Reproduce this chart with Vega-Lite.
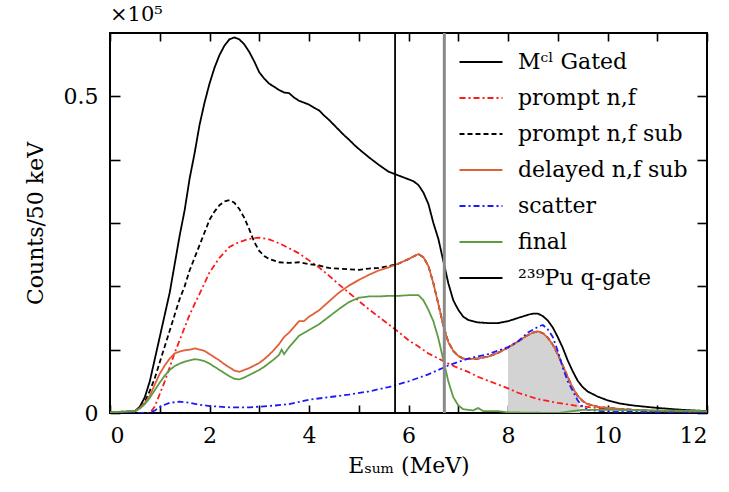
{
  "$schema": "https://vega.github.io/schema/vega-lite/v6.json",
  "width": 597,
  "height": 380,
  "autosize": {"type": "none"},
  "padding": {"left": 110, "top": 33, "right": 22, "bottom": 79},
  "background": "white",
  "title": {"text": "×10⁵", "anchor": "start", "frame": "group", "font": "DejaVu Serif", "fontSize": 21, "fontWeight": "normal", "offset": 7, "color": "black"},
  "config": {
    "view": {"stroke": "black", "strokeWidth": 2},
    "axis": {"grid": false, "domain": false, "tickColor": "black", "tickWidth": 1.6, "labelFont": "DejaVu Serif", "labelFontSize": 22, "labelColor": "black", "titleFont": "DejaVu Serif", "titleFontSize": 22, "titleFontWeight": "normal", "titleColor": "black"}
  },
  "datasets": {
    "curves": [
      {"s":"M","E":0,"v":0.001},{"s":"M","E":0.3,"v":0.001},{"s":"M","E":0.5,"v":0.003},{"s":"M","E":0.6,"v":0.01},{"s":"M","E":0.7,"v":0.025},{"s":"M","E":0.8,"v":0.05},{"s":"M","E":0.9,"v":0.085},{"s":"M","E":1.0,"v":0.12},{"s":"M","E":1.1,"v":0.155},{"s":"M","E":1.2,"v":0.19},{"s":"M","E":1.3,"v":0.235},{"s":"M","E":1.4,"v":0.28},{"s":"M","E":1.5,"v":0.32},{"s":"M","E":1.6,"v":0.37},{"s":"M","E":1.7,"v":0.41},{"s":"M","E":1.8,"v":0.455},{"s":"M","E":1.9,"v":0.49},{"s":"M","E":2.0,"v":0.52},{"s":"M","E":2.1,"v":0.545},{"s":"M","E":2.2,"v":0.565},{"s":"M","E":2.3,"v":0.58},{"s":"M","E":2.4,"v":0.59},{"s":"M","E":2.5,"v":0.593},{"s":"M","E":2.6,"v":0.59},{"s":"M","E":2.7,"v":0.582},{"s":"M","E":2.8,"v":0.57},{"s":"M","E":2.9,"v":0.555},{"s":"M","E":3.0,"v":0.538},{"s":"M","E":3.1,"v":0.528},{"s":"M","E":3.2,"v":0.52},{"s":"M","E":3.3,"v":0.515},{"s":"M","E":3.4,"v":0.51},{"s":"M","E":3.5,"v":0.506},{"s":"M","E":3.6,"v":0.505},{"s":"M","E":3.7,"v":0.498},{"s":"M","E":3.8,"v":0.493},{"s":"M","E":3.9,"v":0.49},{"s":"M","E":4.0,"v":0.487},{"s":"M","E":4.1,"v":0.482},{"s":"M","E":4.2,"v":0.478},{"s":"M","E":4.3,"v":0.47},{"s":"M","E":4.4,"v":0.463},{"s":"M","E":4.5,"v":0.455},{"s":"M","E":4.6,"v":0.447},{"s":"M","E":4.7,"v":0.439},{"s":"M","E":4.8,"v":0.432},{"s":"M","E":4.9,"v":0.424},{"s":"M","E":5.0,"v":0.417},{"s":"M","E":5.2,"v":0.404},{"s":"M","E":5.4,"v":0.392},{"s":"M","E":5.6,"v":0.381},{"s":"M","E":5.8,"v":0.375},{"s":"M","E":6.0,"v":0.369},{"s":"M","E":6.1,"v":0.366},{"s":"M","E":6.2,"v":0.36},{"s":"M","E":6.3,"v":0.348},{"s":"M","E":6.4,"v":0.33},{"s":"M","E":6.5,"v":0.3},{"s":"M","E":6.6,"v":0.275},{"s":"M","E":6.7,"v":0.24},{"s":"M","E":6.8,"v":0.205},{"s":"M","E":6.9,"v":0.178},{"s":"M","E":7.0,"v":0.163},{"s":"M","E":7.1,"v":0.152},{"s":"M","E":7.2,"v":0.147},{"s":"M","E":7.4,"v":0.143},{"s":"M","E":7.6,"v":0.142},{"s":"M","E":7.8,"v":0.142},{"s":"M","E":8.0,"v":0.145},{"s":"M","E":8.2,"v":0.15},{"s":"M","E":8.4,"v":0.155},{"s":"M","E":8.5,"v":0.157},{"s":"M","E":8.6,"v":0.157},{"s":"M","E":8.7,"v":0.153},{"s":"M","E":8.8,"v":0.146},{"s":"M","E":8.9,"v":0.135},{"s":"M","E":9.0,"v":0.12},{"s":"M","E":9.1,"v":0.103},{"s":"M","E":9.2,"v":0.083},{"s":"M","E":9.3,"v":0.066},{"s":"M","E":9.4,"v":0.051},{"s":"M","E":9.5,"v":0.041},{"s":"M","E":9.6,"v":0.034},{"s":"M","E":9.7,"v":0.03},{"s":"M","E":9.8,"v":0.026},{"s":"M","E":10.0,"v":0.02},{"s":"M","E":10.25,"v":0.015},{"s":"M","E":10.5,"v":0.012},{"s":"M","E":11,"v":0.008},{"s":"M","E":11.5,"v":0.005},{"s":"M","E":12,"v":0.003},

      {"s":"P","E":0,"v":0},{"s":"P","E":0.8,"v":0},{"s":"P","E":0.9,"v":0.01},{"s":"P","E":1.0,"v":0.03},{"s":"P","E":1.1,"v":0.05},{"s":"P","E":1.2,"v":0.072},{"s":"P","E":1.3,"v":0.095},{"s":"P","E":1.4,"v":0.115},{"s":"P","E":1.5,"v":0.135},{"s":"P","E":1.6,"v":0.155},{"s":"P","E":1.7,"v":0.172},{"s":"P","E":1.8,"v":0.188},{"s":"P","E":1.9,"v":0.205},{"s":"P","E":2.0,"v":0.222},{"s":"P","E":2.2,"v":0.245},{"s":"P","E":2.4,"v":0.262},{"s":"P","E":2.6,"v":0.27},{"s":"P","E":2.8,"v":0.275},{"s":"P","E":3.0,"v":0.277},{"s":"P","E":3.2,"v":0.274},{"s":"P","E":3.4,"v":0.268},{"s":"P","E":3.6,"v":0.26},{"s":"P","E":3.8,"v":0.252},{"s":"P","E":4.0,"v":0.241},{"s":"P","E":4.2,"v":0.23},{"s":"P","E":4.4,"v":0.217},{"s":"P","E":4.6,"v":0.203},{"s":"P","E":4.8,"v":0.19},{"s":"P","E":5.0,"v":0.177},{"s":"P","E":5.2,"v":0.164},{"s":"P","E":5.4,"v":0.152},{"s":"P","E":5.6,"v":0.14},{"s":"P","E":5.8,"v":0.128},{"s":"P","E":6.0,"v":0.115},{"s":"P","E":6.2,"v":0.105},{"s":"P","E":6.4,"v":0.094},{"s":"P","E":6.6,"v":0.086},{"s":"P","E":6.8,"v":0.078},{"s":"P","E":7.0,"v":0.071},{"s":"P","E":7.2,"v":0.065},{"s":"P","E":7.4,"v":0.057},{"s":"P","E":7.6,"v":0.051},{"s":"P","E":7.8,"v":0.045},{"s":"P","E":8.0,"v":0.039},{"s":"P","E":8.2,"v":0.032},{"s":"P","E":8.4,"v":0.027},{"s":"P","E":8.6,"v":0.022},{"s":"P","E":8.8,"v":0.019},{"s":"P","E":9.0,"v":0.016},{"s":"P","E":9.4,"v":0.011},{"s":"P","E":9.8,"v":0.008},{"s":"P","E":10.4,"v":0.005},{"s":"P","E":11,"v":0.003},{"s":"P","E":12,"v":0.002},

      {"s":"S","E":0,"v":0.001},{"s":"S","E":0.5,"v":0.003},{"s":"S","E":0.6,"v":0.008},{"s":"S","E":0.7,"v":0.018},{"s":"S","E":0.8,"v":0.035},{"s":"S","E":0.9,"v":0.055},{"s":"S","E":1.0,"v":0.08},{"s":"S","E":1.1,"v":0.105},{"s":"S","E":1.2,"v":0.13},{"s":"S","E":1.3,"v":0.155},{"s":"S","E":1.4,"v":0.18},{"s":"S","E":1.5,"v":0.2},{"s":"S","E":1.6,"v":0.225},{"s":"S","E":1.7,"v":0.245},{"s":"S","E":1.8,"v":0.265},{"s":"S","E":1.9,"v":0.285},{"s":"S","E":2.0,"v":0.305},{"s":"S","E":2.1,"v":0.318},{"s":"S","E":2.2,"v":0.328},{"s":"S","E":2.3,"v":0.334},{"s":"S","E":2.4,"v":0.336},{"s":"S","E":2.5,"v":0.332},{"s":"S","E":2.6,"v":0.322},{"s":"S","E":2.7,"v":0.308},{"s":"S","E":2.8,"v":0.29},{"s":"S","E":2.9,"v":0.27},{"s":"S","E":3.0,"v":0.256},{"s":"S","E":3.1,"v":0.248},{"s":"S","E":3.2,"v":0.243},{"s":"S","E":3.4,"v":0.238},{"s":"S","E":3.6,"v":0.237},{"s":"S","E":3.8,"v":0.238},{"s":"S","E":4.0,"v":0.235},{"s":"S","E":4.2,"v":0.233},{"s":"S","E":4.4,"v":0.229},{"s":"S","E":4.6,"v":0.228},{"s":"S","E":4.8,"v":0.227},{"s":"S","E":5.0,"v":0.226},{"s":"S","E":5.2,"v":0.228},{"s":"S","E":5.4,"v":0.229},{"s":"S","E":5.6,"v":0.232},{"s":"S","E":5.8,"v":0.236},{"s":"S","E":6.0,"v":0.243},{"s":"S","E":6.1,"v":0.247},{"s":"S","E":6.2,"v":0.251},{"s":"S","E":6.3,"v":0.246},{"s":"S","E":6.4,"v":0.232},{"s":"S","E":6.5,"v":0.205},{"s":"S","E":6.6,"v":0.172},{"s":"S","E":6.7,"v":0.138},{"s":"S","E":6.8,"v":0.112},{"s":"S","E":6.9,"v":0.098},{"s":"S","E":7.0,"v":0.09},{"s":"S","E":7.1,"v":0.086},{"s":"S","E":7.2,"v":0.085},{"s":"S","E":7.4,"v":0.086},{"s":"S","E":7.6,"v":0.089},{"s":"S","E":7.8,"v":0.095},{"s":"S","E":8.0,"v":0.103},{"s":"S","E":8.2,"v":0.113},{"s":"S","E":8.4,"v":0.123},{"s":"S","E":8.5,"v":0.127},{"s":"S","E":8.6,"v":0.129},{"s":"S","E":8.7,"v":0.126},{"s":"S","E":8.8,"v":0.119},{"s":"S","E":8.9,"v":0.108},{"s":"S","E":9.0,"v":0.093},{"s":"S","E":9.1,"v":0.075},{"s":"S","E":9.2,"v":0.057},{"s":"S","E":9.3,"v":0.04},{"s":"S","E":9.4,"v":0.027},{"s":"S","E":9.5,"v":0.019},{"s":"S","E":9.6,"v":0.014},{"s":"S","E":9.8,"v":0.01},{"s":"S","E":10,"v":0.008},{"s":"S","E":10.5,"v":0.005},{"s":"S","E":11,"v":0.003},{"s":"S","E":12,"v":0.002},

      {"s":"D","E":0,"v":0.001},{"s":"D","E":0.5,"v":0.003},{"s":"D","E":0.6,"v":0.008},{"s":"D","E":0.7,"v":0.016},{"s":"D","E":0.8,"v":0.027},{"s":"D","E":0.9,"v":0.045},{"s":"D","E":1.0,"v":0.062},{"s":"D","E":1.1,"v":0.075},{"s":"D","E":1.2,"v":0.086},{"s":"D","E":1.3,"v":0.094},{"s":"D","E":1.4,"v":0.097},{"s":"D","E":1.5,"v":0.099},{"s":"D","E":1.6,"v":0.1},{"s":"D","E":1.7,"v":0.102},{"s":"D","E":1.8,"v":0.1},{"s":"D","E":1.9,"v":0.098},{"s":"D","E":2.0,"v":0.093},{"s":"D","E":2.1,"v":0.088},{"s":"D","E":2.2,"v":0.083},{"s":"D","E":2.3,"v":0.077},{"s":"D","E":2.4,"v":0.072},{"s":"D","E":2.5,"v":0.067},{"s":"D","E":2.6,"v":0.065},{"s":"D","E":2.7,"v":0.068},{"s":"D","E":2.8,"v":0.071},{"s":"D","E":2.9,"v":0.075},{"s":"D","E":3.0,"v":0.079},{"s":"D","E":3.1,"v":0.085},{"s":"D","E":3.2,"v":0.092},{"s":"D","E":3.3,"v":0.1},{"s":"D","E":3.4,"v":0.109},{"s":"D","E":3.5,"v":0.12},{"s":"D","E":3.6,"v":0.127},{"s":"D","E":3.7,"v":0.136},{"s":"D","E":3.8,"v":0.145},{"s":"D","E":3.9,"v":0.145},{"s":"D","E":4.0,"v":0.152},{"s":"D","E":4.2,"v":0.162},{"s":"D","E":4.4,"v":0.176},{"s":"D","E":4.6,"v":0.19},{"s":"D","E":4.8,"v":0.201},{"s":"D","E":5.0,"v":0.21},{"s":"D","E":5.2,"v":0.218},{"s":"D","E":5.4,"v":0.225},{"s":"D","E":5.6,"v":0.23},{"s":"D","E":5.8,"v":0.236},{"s":"D","E":6.0,"v":0.243},{"s":"D","E":6.1,"v":0.247},{"s":"D","E":6.2,"v":0.251},{"s":"D","E":6.3,"v":0.246},{"s":"D","E":6.4,"v":0.232},{"s":"D","E":6.5,"v":0.205},{"s":"D","E":6.6,"v":0.172},{"s":"D","E":6.7,"v":0.138},{"s":"D","E":6.8,"v":0.112},{"s":"D","E":6.9,"v":0.098},{"s":"D","E":7.0,"v":0.09},{"s":"D","E":7.1,"v":0.086},{"s":"D","E":7.2,"v":0.085},{"s":"D","E":7.4,"v":0.086},{"s":"D","E":7.6,"v":0.089},{"s":"D","E":7.8,"v":0.095},{"s":"D","E":8.0,"v":0.103},{"s":"D","E":8.2,"v":0.113},{"s":"D","E":8.4,"v":0.123},{"s":"D","E":8.5,"v":0.127},{"s":"D","E":8.6,"v":0.129},{"s":"D","E":8.7,"v":0.126},{"s":"D","E":8.8,"v":0.119},{"s":"D","E":8.9,"v":0.108},{"s":"D","E":9.0,"v":0.093},{"s":"D","E":9.1,"v":0.075},{"s":"D","E":9.2,"v":0.057},{"s":"D","E":9.3,"v":0.04},{"s":"D","E":9.4,"v":0.027},{"s":"D","E":9.5,"v":0.019},{"s":"D","E":9.6,"v":0.014},{"s":"D","E":9.8,"v":0.01},{"s":"D","E":10,"v":0.008},{"s":"D","E":10.5,"v":0.005},{"s":"D","E":11,"v":0.003},{"s":"D","E":12,"v":0.002},

      {"s":"C","E":0,"v":0},{"s":"C","E":0.8,"v":0},{"s":"C","E":0.9,"v":0.004},{"s":"C","E":1.0,"v":0.009},{"s":"C","E":1.1,"v":0.013},{"s":"C","E":1.2,"v":0.016},{"s":"C","E":1.4,"v":0.018},{"s":"C","E":1.6,"v":0.016},{"s":"C","E":1.8,"v":0.013},{"s":"C","E":2.0,"v":0.011},{"s":"C","E":2.4,"v":0.009},{"s":"C","E":2.8,"v":0.009},{"s":"C","E":3.2,"v":0.011},{"s":"C","E":3.6,"v":0.014},{"s":"C","E":4.0,"v":0.021},{"s":"C","E":4.4,"v":0.025},{"s":"C","E":4.8,"v":0.029},{"s":"C","E":5.2,"v":0.034},{"s":"C","E":5.6,"v":0.041},{"s":"C","E":6.0,"v":0.05},{"s":"C","E":6.4,"v":0.061},{"s":"C","E":6.8,"v":0.075},{"s":"C","E":7.2,"v":0.086},{"s":"C","E":7.6,"v":0.093},{"s":"C","E":8.0,"v":0.104},{"s":"C","E":8.2,"v":0.113},{"s":"C","E":8.4,"v":0.127},{"s":"C","E":8.6,"v":0.136},{"s":"C","E":8.7,"v":0.139},{"s":"C","E":8.8,"v":0.132},{"s":"C","E":8.9,"v":0.12},{"s":"C","E":9.0,"v":0.098},{"s":"C","E":9.1,"v":0.072},{"s":"C","E":9.2,"v":0.05},{"s":"C","E":9.3,"v":0.035},{"s":"C","E":9.4,"v":0.02},{"s":"C","E":9.5,"v":0.01},{"s":"C","E":9.6,"v":0.005},{"s":"C","E":10,"v":0.002},{"s":"C","E":12,"v":0.001},

      {"s":"F","E":0,"v":0.001},{"s":"F","E":0.5,"v":0.003},{"s":"F","E":0.6,"v":0.007},{"s":"F","E":0.7,"v":0.014},{"s":"F","E":0.8,"v":0.024},{"s":"F","E":0.9,"v":0.036},{"s":"F","E":1.0,"v":0.048},{"s":"F","E":1.1,"v":0.059},{"s":"F","E":1.2,"v":0.068},{"s":"F","E":1.3,"v":0.074},{"s":"F","E":1.4,"v":0.078},{"s":"F","E":1.5,"v":0.081},{"s":"F","E":1.6,"v":0.083},{"s":"F","E":1.7,"v":0.085},{"s":"F","E":1.8,"v":0.084},{"s":"F","E":1.9,"v":0.082},{"s":"F","E":2.0,"v":0.078},{"s":"F","E":2.1,"v":0.073},{"s":"F","E":2.2,"v":0.068},{"s":"F","E":2.3,"v":0.063},{"s":"F","E":2.4,"v":0.058},{"s":"F","E":2.5,"v":0.054},{"s":"F","E":2.6,"v":0.053},{"s":"F","E":2.7,"v":0.056},{"s":"F","E":2.8,"v":0.06},{"s":"F","E":2.9,"v":0.064},{"s":"F","E":3.0,"v":0.068},{"s":"F","E":3.1,"v":0.073},{"s":"F","E":3.2,"v":0.079},{"s":"F","E":3.3,"v":0.085},{"s":"F","E":3.4,"v":0.092},{"s":"F","E":3.45,"v":0.1},{"s":"F","E":3.5,"v":0.093},{"s":"F","E":3.6,"v":0.104},{"s":"F","E":3.7,"v":0.113},{"s":"F","E":3.8,"v":0.122},{"s":"F","E":4.0,"v":0.131},{"s":"F","E":4.2,"v":0.14},{"s":"F","E":4.4,"v":0.152},{"s":"F","E":4.6,"v":0.164},{"s":"F","E":4.8,"v":0.175},{"s":"F","E":5.0,"v":0.182},{"s":"F","E":5.2,"v":0.184},{"s":"F","E":5.4,"v":0.184},{"s":"F","E":5.6,"v":0.185},{"s":"F","E":5.8,"v":0.185},{"s":"F","E":6.0,"v":0.186},{"s":"F","E":6.2,"v":0.186},{"s":"F","E":6.3,"v":0.178},{"s":"F","E":6.4,"v":0.163},{"s":"F","E":6.5,"v":0.145},{"s":"F","E":6.6,"v":0.118},{"s":"F","E":6.7,"v":0.084},{"s":"F","E":6.8,"v":0.05},{"s":"F","E":6.9,"v":0.025},{"s":"F","E":7.0,"v":0.012},{"s":"F","E":7.1,"v":0.006},{"s":"F","E":7.3,"v":0.004},{"s":"F","E":7.4,"v":0.008},{"s":"F","E":7.5,"v":0.003},{"s":"F","E":7.8,"v":0.003},{"s":"F","E":8.0,"v":0.001},{"s":"F","E":9.0,"v":0},{"s":"F","E":9.2,"v":0.002},{"s":"F","E":9.5,"v":0.005},{"s":"F","E":10,"v":0.005},{"s":"F","E":11,"v":0.004},{"s":"F","E":12,"v":0.003}
    ],
    "shade": [
      {"E":8.0,"v":0.103},{"E":8.2,"v":0.113},{"E":8.4,"v":0.123},{"E":8.5,"v":0.127},{"E":8.6,"v":0.129},{"E":8.7,"v":0.126},{"E":8.8,"v":0.119},{"E":8.9,"v":0.108},{"E":9.0,"v":0.093},{"E":9.1,"v":0.075},{"E":9.2,"v":0.057},{"E":9.3,"v":0.04},{"E":9.4,"v":0.027},{"E":9.45,"v":0}
    ]
  },
  "resolve": {"axis": {"x": "independent", "y": "independent"}},
  "layer": [
    {
      "data": {"name": "shade"},
      "mark": {"type": "area", "color": "#d3d3d3", "opacity": 1},
      "encoding": {
        "x": {"field": "E", "type": "quantitative", "scale": {"domain": [0, 12], "nice": false}, "axis": null},
        "y": {"field": "v", "type": "quantitative", "scale": {"domain": [0, 0.6], "nice": false}, "axis": null}
      }
    },
    {
      "data": {"name": "curves"},
      "mark": {"type": "line", "strokeWidth": 1.8, "clip": true},
      "encoding": {
        "x": {"field": "E", "type": "quantitative", "axis": {"orient": "bottom", "values": [0,1,2,3,4,5,6,7,8,9,10,11,12], "tickSize": -8, "labelPadding": 20, "labelExpr": "datum.value % 2 == 0 ? datum.label : ''", "title": "Eₛᵤₘ (MeV)", "titlePadding": 9}},
        "y": {"field": "v", "type": "quantitative", "axis": {"orient": "left", "values": [0, 0.1, 0.2, 0.3, 0.4, 0.5], "tickSize": -10, "labelPadding": 22, "labelExpr": "datum.value == 0 ? '0' : (datum.value == 0.5 ? '0.5' : '')", "title": "Counts/50 keV", "titlePadding": 16}},
        "color": {"field": "s", "type": "nominal", "scale": {"domain": ["M","P","S","D","C","F","Q"], "range": ["#000000","#ff1a1a","#000000","#e0603a","#1a1aff","#5d9c45","#000000"]},
          "legend": {"title": null, "orient": "none", "legendX": 359, "legendY": 17, "padding": 0, "symbolType": "M-2,0H2", "symbolSize": 462, "symbolStrokeWidth": 2, "labelOffset": 25, "rowPadding": 13, "labelLimit": 0, "labelFont": "DejaVu Serif", "labelFontSize": 22, "labelColor": "black",
            "labelExpr": "datum.value == 'M' ? 'Mᶜˡ Gated' : datum.value == 'P' ? 'prompt n,f' : datum.value == 'S' ? 'prompt n,f sub' : datum.value == 'D' ? 'delayed n,f sub' : datum.value == 'C' ? 'scatter' : datum.value == 'F' ? 'final' : '²³⁹Pu q-gate'"}},
        "strokeDash": {"field": "s", "type": "nominal", "scale": {"domain": ["M","P","S","D","C","F","Q"], "range": [[1,0],[6,3,2,3],[5,3],[1,0],[6,3,2,3],[1,0],[1,0]]},
          "legend": {"title": null, "orient": "none", "legendX": 359, "legendY": 17, "padding": 0, "symbolType": "M-2,0H2", "symbolSize": 462, "symbolStrokeWidth": 2, "labelOffset": 25, "rowPadding": 13, "labelLimit": 0, "labelFont": "DejaVu Serif", "labelFontSize": 22, "labelColor": "black",
            "labelExpr": "datum.value == 'M' ? 'Mᶜˡ Gated' : datum.value == 'P' ? 'prompt n,f' : datum.value == 'S' ? 'prompt n,f sub' : datum.value == 'D' ? 'delayed n,f sub' : datum.value == 'C' ? 'scatter' : datum.value == 'F' ? 'final' : '²³⁹Pu q-gate'"}}
      }
    },
    {
      "data": {"values": [{"E": 5.73}]},
      "mark": {"type": "rule", "color": "black", "strokeWidth": 1.8},
      "encoding": {"x": {"field": "E", "type": "quantitative", "axis": null}}
    },
    {
      "data": {"values": [{"E": 6.72}]},
      "mark": {"type": "rule", "color": "#8a8a8a", "strokeWidth": 3},
      "encoding": {"x": {"field": "E", "type": "quantitative", "axis": null}}
    },
    {
      "data": {"name": "shade"},
      "mark": {"type": "point", "opacity": 0},
      "encoding": {
        "x": {"field": "E", "type": "quantitative", "axis": {"orient": "top", "values": [0,1,2,3,4,5,6,7,8,9,10,11,12], "tickSize": -8, "labels": false, "title": null}},
        "y": {"field": "v", "type": "quantitative", "axis": {"orient": "right", "values": [0, 0.1, 0.2, 0.3, 0.4, 0.5], "tickSize": -10, "labels": false, "title": null}}
      }
    }
  ]
}
